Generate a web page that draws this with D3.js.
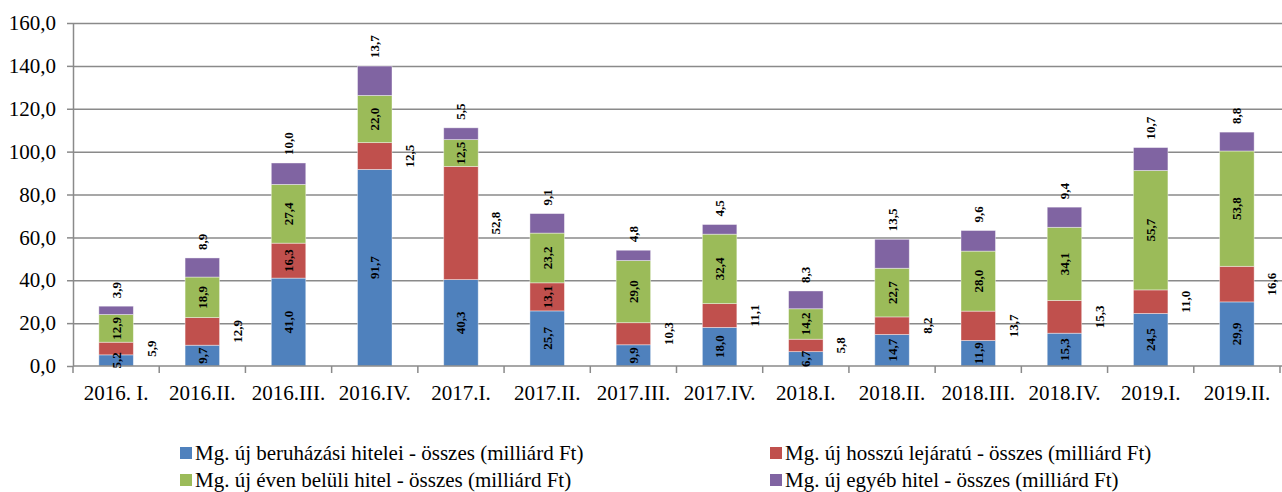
<!DOCTYPE html>
<html>
<head>
<meta charset="utf-8">
<script src="https://cdn.jsdelivr.net/npm/d3@7"></script>
<style>
  body { margin: 0; background: #fff; }
  svg { display: block; font-family: "Liberation Serif", "Times New Roman", serif; }
  .grid line { stroke: #8a8a8a; stroke-width: 1.5; }
  .grid .domain { display: none; }
  .axis .domain, .axis line { stroke: #8a8a8a; stroke-width: 1.5; }
  .axis text { fill: #000; font-size: 21px; font-family: "Liberation Serif", serif; }
  .lbl { font-size: 13px; font-weight: bold; fill: #000; font-family: "Liberation Serif", serif; }
  .leg { font-size: 21px; fill: #000; font-family: "Liberation Serif", serif; }
</style>
</head>
<body>
<svg width="1282" height="492"></svg>
<script>
// categories (quarters)
var categories = ["2016. I.", "2016.II.", "2016.III.", "2016.IV.", "2017.I.", "2017.II.", "2017.III.",
                  "2017.IV.", "2018.I.", "2018.II.", "2018.III.", "2018.IV.", "2019.I.", "2019.II."];

// series values, milliárd Ft
var beruhazasi = [5.2, 9.7, 41.0, 91.7, 40.3, 25.7, 9.9, 18.0, 6.7, 14.7, 11.9, 15.3, 24.5, 29.9];
var hosszu     = [5.9, 12.9, 16.3, 12.5, 52.8, 13.1, 10.3, 11.1, 5.8, 8.2, 13.7, 15.3, 11.0, 16.6];
var evenBelul  = [12.9, 18.9, 27.4, 22.0, 12.5, 23.2, 29.0, 32.4, 14.2, 22.7, 28.0, 34.1, 55.7, 53.8];
var egyeb      = [3.9, 8.9, 10.0, 13.7, 5.5, 9.1, 4.8, 4.5, 8.3, 13.5, 9.6, 9.4, 10.7, 8.8];

var seriesNames = ["Mg. új beruházási hitelei - összes (milliárd Ft)",
                   "Mg. új hosszú lejáratú - összes (milliárd Ft)",
                   "Mg. új éven belüli hitel - összes (milliárd Ft)",
                   "Mg. új egyéb hitel - összes (milliárd Ft)"];
var seriesColors = ["#4F81BD", "#C0504D", "#9BBB59", "#8064A2"];

var yTicks = [0, 20, 40, 60, 80, 100, 120, 140, 160];

// red labels that sit inside their bar (the rest sit to the right)
var redInside = ["2016.III.", "2017.II."];

var svg = d3.select("svg"),
    mLeft = 73, mRight = 1280, mTop = 23, mBottom = 366;

var keys = ["b", "h", "e", "o"];
var table = categories.map(function(c, i) {
  return { cat: c, b: beruhazasi[i], h: hosszu[i], e: evenBelul[i], o: egyeb[i] };
});
var stacked = d3.stack().keys(keys)(table);

var x = d3.scaleBand()
          .domain(categories)
          .range([mLeft, mRight])
          .paddingInner(0.6)
          .paddingOuter(0.3);

var xOuter = d3.scaleBand().domain(categories).range([mLeft, mRight]);

var y = d3.scaleLinear().domain([0, 160]).range([mBottom, mTop]);

var fmt = function(v) { return d3.format(".1f")(v).replace(".", ","); };

// gridlines
svg.append("g")
   .attr("class", "grid")
   .attr("transform", "translate(" + mLeft + ",0)")
   .call(d3.axisLeft(y).tickValues(yTicks.slice(1)).tickSize(-(mRight - mLeft + 2)).tickFormat(""));

// y axis
svg.append("g")
   .attr("class", "axis")
   .attr("transform", "translate(" + mLeft + ",0)")
   .call(d3.axisLeft(y).tickValues(yTicks).tickSize(6).tickSizeOuter(0).tickPadding(11).tickFormat(fmt));

// bars
var layer = svg.selectAll(".layer")
   .data(stacked)
   .enter().append("g")
     .attr("class", "layer")
     .attr("fill", function(d, i) { return seriesColors[i]; });

layer.selectAll("rect")
   .data(function(d) { return d; })
   .enter().append("rect")
     .attr("x", function(d) { return x(d.data.cat); })
     .attr("y", function(d) { return y(d[1]); })
     .attr("width", x.bandwidth())
     .attr("height", function(d) { return y(d[0]) - y(d[1]); })
     .attr("stroke", "#fff")
     .attr("stroke-opacity", 0.5)
     .attr("stroke-width", 0.8);

// x axis
var xAxis = svg.append("g")
   .attr("class", "axis")
   .attr("transform", "translate(0," + mBottom + ")")
   .call(d3.axisBottom(xOuter).tickSize(0).tickPadding(19));
xAxis.select(".domain").attr("d", "M" + mLeft + ",0H" + (mRight + 2));
xAxis.selectAll(".sep")
   .data(categories.concat(["end"]))
   .enter().append("line")
     .attr("x1", function(d, i) { return mLeft + i * xOuter.step(); })
     .attr("x2", function(d, i) { return mLeft + i * xOuter.step(); })
     .attr("y1", 0).attr("y2", 7);

// data labels
stacked.forEach(function(s, si) {
  svg.append("g").selectAll("text")
     .data(s)
     .enter().append("text")
       .attr("class", "lbl")
       .attr("transform", function(d) {
         var cx = x(d.data.cat) + x.bandwidth() / 2,
             cy = (y(d[0]) + y(d[1])) / 2;
         if (si === 1 && redInside.indexOf(d.data.cat) < 0) cx += 35;
         if (si === 3) cy = y(d[1]) - 8;
         return "translate(" + (cx + 4.5) + "," + cy + ") rotate(-90)";
       })
       .attr("text-anchor", si === 3 ? "start" : "middle")
       .text(function(d) { return fmt(d[1] - d[0]); });
});

// legend
var legPos = [[180, 453], [770, 453], [180, 480], [770, 480]];
var legOrder = [0, 1, 2, 3];
var leg = svg.selectAll(".legitem")
   .data(legOrder)
   .enter().append("g")
     .attr("transform", function(d, i) { return "translate(" + legPos[i][0] + "," + legPos[i][1] + ")"; });
leg.append("rect")
   .attr("x", 0).attr("y", -6).attr("width", 12).attr("height", 12)
   .attr("fill", function(d) { return seriesColors[d]; });
leg.append("text")
   .attr("class", "leg")
   .attr("x", 15).attr("y", 7)
   .text(function(d) { return seriesNames[d]; });
</script>
</body>
</html>
